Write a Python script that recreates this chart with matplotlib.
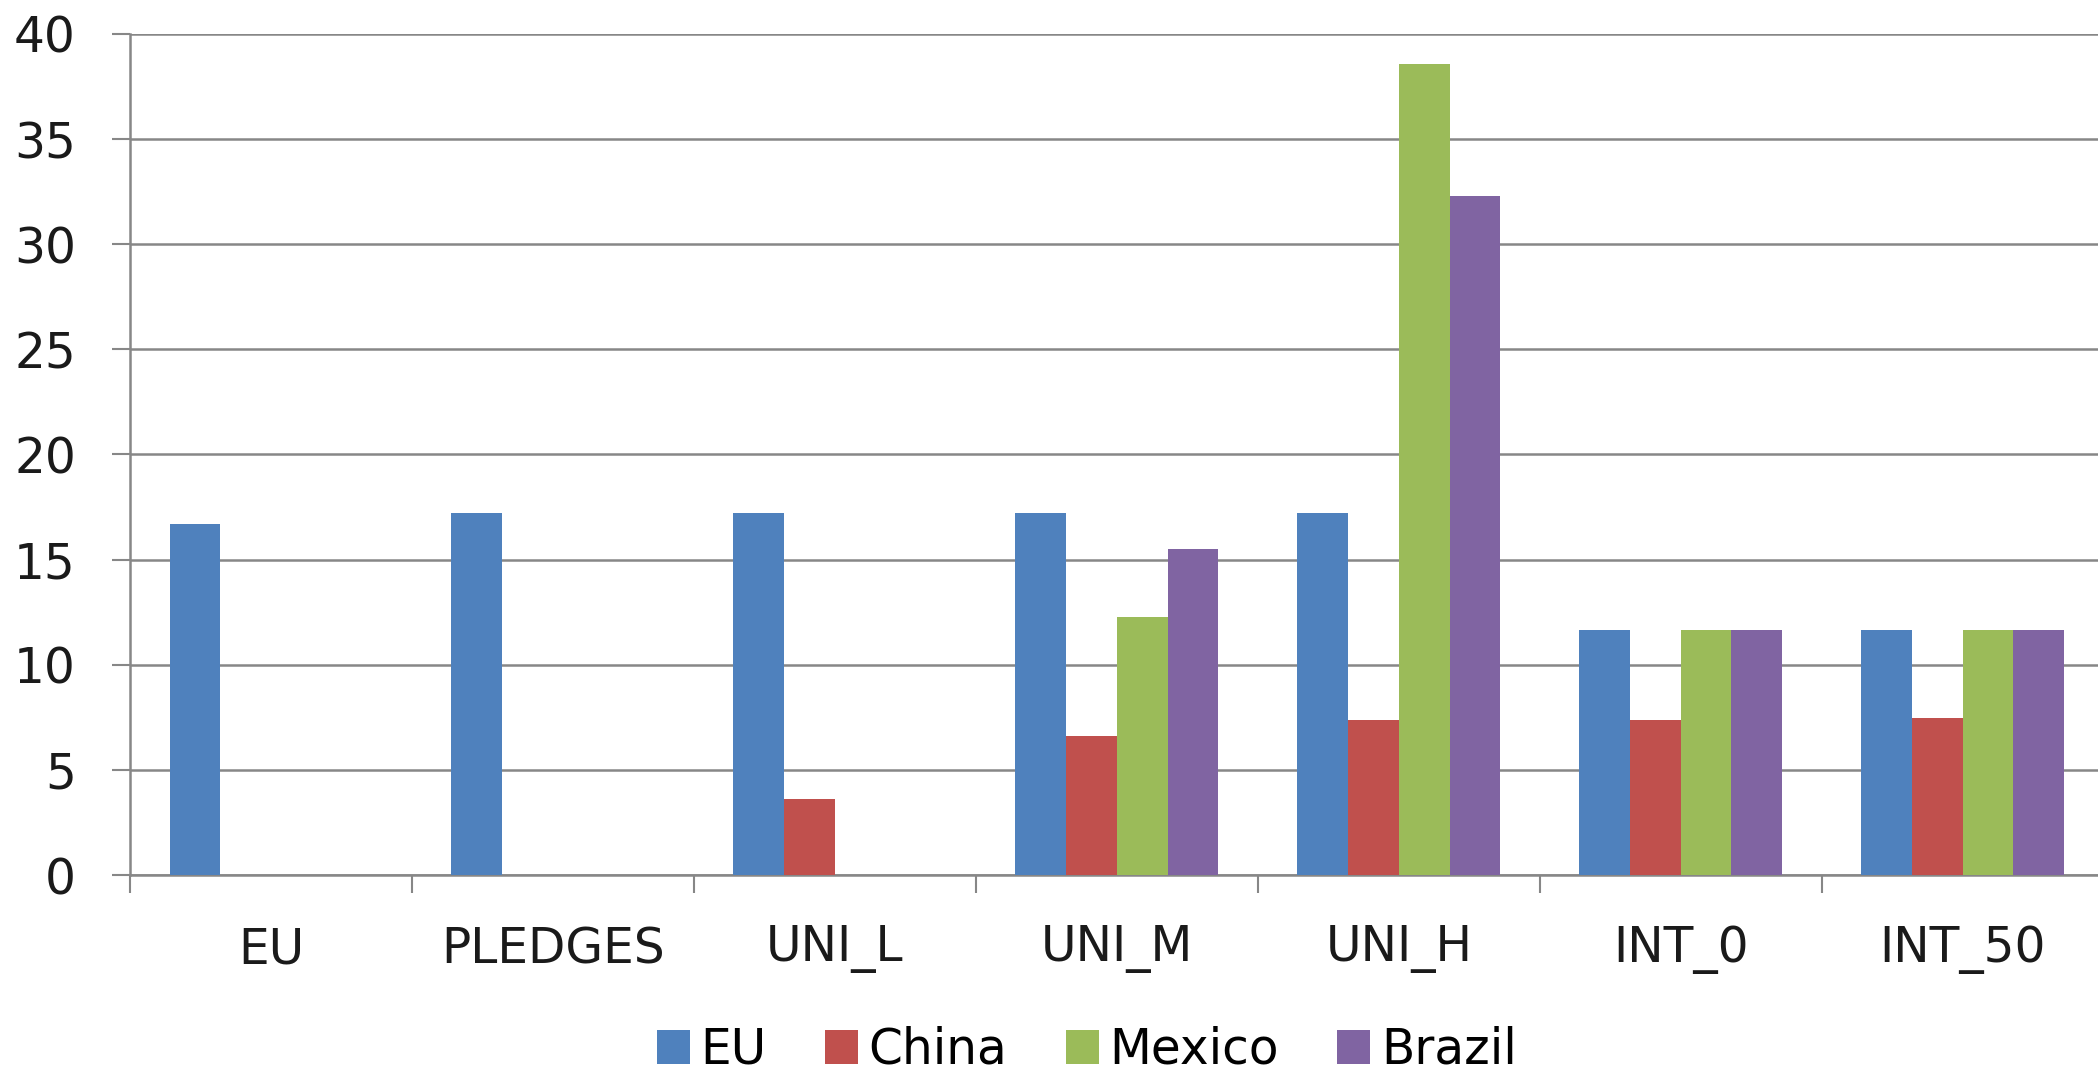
import matplotlib
matplotlib.use("Agg")
import matplotlib.pyplot as plt
import numpy as np

# Scenario categories and per-region values
categories = ["EU", "PLEDGES", "UNI_L", "UNI_M", "UNI_H", "INT_0", "INT_50"]
regions = ["EU", "China", "Mexico", "Brazil"]
eu_vals = [16.7, 17.2, 17.2, 17.2, 17.2, 11.67, 11.67]
china_vals = [0, 0, 3.63, 6.62, 7.35, 7.35, 7.46]
mexico_vals = [0, 0, 0, 12.27, 38.57, 11.67, 11.67]
brazil_vals = [0, 0, 0, 15.49, 32.29, 11.67, 11.67]
colors = ["#4F81BD", "#C0504D", "#9BBB59", "#8064A2"]
yticks = [0, 5, 10, 15, 20, 25, 30, 35, 40]

plt.rcParams["font.family"] = ["DejaVu Sans"]
fs = 35

fig = plt.figure(figsize=(20.98, 10.78), dpi=100)
ax = fig.add_axes([0.062, 0.1883, 0.938, 0.7802])

series = [eu_vals, china_vals, mexico_vals, brazil_vals]
x = np.arange(len(categories))
bw = 0.18
for i, (vals, col, name) in enumerate(zip(series, colors, regions)):
    ax.bar(x + (i - 1.5) * bw, vals, width=bw, color=col, label=name,
           edgecolor="none", zorder=3)

grid_col = "#878787"
ax.set_ylim(0, 40)
ax.set_xlim(-0.5, 6.48)
ax.set_yticks(yticks)
ax.set_yticklabels([str(v) for v in yticks], fontsize=fs, color="#1a1a1a")
ax.yaxis.grid(True, color=grid_col, linewidth=1.8, zorder=0)
ax.set_axisbelow(True)

ax.set_xticks(x)
ax.set_xticklabels(categories, fontsize=fs, color="#1a1a1a")
ax.set_xticks(np.arange(-0.5, 6.0, 1.0), minor=True)
ax.tick_params(axis="x", which="major", length=0, pad=36)
ax.tick_params(axis="x", which="minor", length=13, width=1.5, color=grid_col)
ax.tick_params(axis="y", which="major", length=13, width=1.5, color=grid_col, pad=26)

for side in ["top", "right"]:
    ax.spines[side].set_visible(False)
for side in ["left", "bottom"]:
    ax.spines[side].set_color(grid_col)
    ax.spines[side].set_linewidth(1.8)

fig.legend(loc="center", bbox_to_anchor=(0.518, 0.026), ncol=4, frameon=False,
           fontsize=fs, handlelength=0.68, handleheight=0.68, handletextpad=0.22,
           columnspacing=1.2, borderpad=0)

fig.savefig("out.png", dpi=100, facecolor="white")
